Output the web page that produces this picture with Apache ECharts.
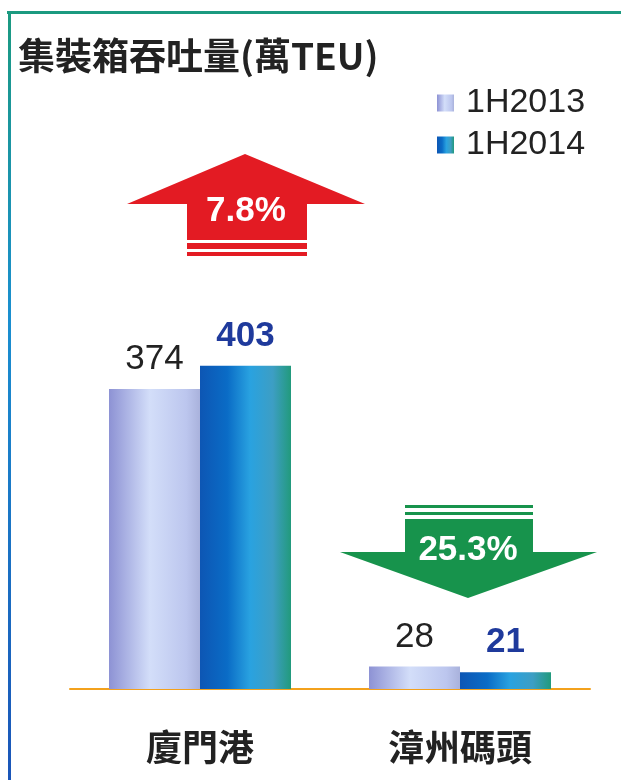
<!DOCTYPE html>
<html>
<head>
<meta charset="utf-8">
<script src="https://cdn.jsdelivr.net/npm/echarts@6/dist/echarts.min.js"></script>
<style>
  html, body { margin: 0; padding: 0; background: #fff; }
  #chart { width: 621px; height: 780px; }
</style>
</head>
<body>
<div id="chart"></div>
<script>
// 数据
const categories = ['廈門港', '漳州碼頭']
const seriesNames = ['1H2013', '1H2014']
const values2013 = [374, 28]
const values2014 = [403, 21]
const changeLabels = ['7.8%', '25.3%']

const cjkFont = '"Noto Sans CJK TC", "Noto Sans CJK SC", sans-serif'
const numFont = '"Liberation Sans", Arial, sans-serif'

const grad2013 = new echarts.graphic.LinearGradient(0, 0, 1, 0, [
  { offset: 0, color: '#8d92d4' },
  { offset: 0.45, color: '#d3def9' },
  { offset: 0.85, color: '#bcc6ee' },
  { offset: 1, color: '#a9b2dc' }
])
const grad2014 = new echarts.graphic.LinearGradient(0, 0, 1, 0, [
  { offset: 0, color: '#0d56b4' },
  { offset: 0.3, color: '#0a6cc6' },
  { offset: 0.55, color: '#29a2e0' },
  { offset: 0.8, color: '#3d9ec4' },
  { offset: 1, color: '#229a7c' }
])

const red = '#e31b23'
const green = '#17934c'

const chart = echarts.init(document.getElementById('chart'))

chart.setOption({
  backgroundColor: '#ffffff',
  animation: false,
  title: {
    text: '集裝箱吞吐量(萬TEU)',
    left: 13,
    top: 32,
    textStyle: { fontFamily: cjkFont, fontSize: 37, fontWeight: 'bold', color: '#222' }
  },
  legend: {
    data: seriesNames,
    orient: 'vertical',
    left: 437,
    top: 86,
    padding: 0,
    icon: 'rect',
    itemWidth: 17,
    itemHeight: 17,
    itemGap: 8,
    textStyle: { fontFamily: numFont, fontSize: 34, color: '#222', padding: [0, 0, 0, 7] }
  },
  grid: { left: 70, right: 31, top: 288, bottom: 91 },
  xAxis: {
    type: 'category',
    data: categories,
    axisLine: { lineStyle: { color: '#f3a11c', width: 2 } },
    axisTick: { show: false },
    axisLabel: { margin: 40, fontFamily: cjkFont, fontSize: 36, fontWeight: 'bold', color: '#222' }
  },
  yAxis: {
    type: 'value',
    min: 0,
    max: 500,
    show: false,
    splitLine: { show: false }
  },
  series: [
    {
      name: seriesNames[0],
      type: 'bar',
      data: values2013,
      barWidth: 91,
      barGap: '0%',
      itemStyle: { color: grad2013 },
      label: {
        show: true, position: 'top', distance: 12,
        fontFamily: numFont, fontSize: 35, color: '#222'
      }
    },
    {
      name: seriesNames[1],
      type: 'bar',
      data: values2014,
      barWidth: 91,
      itemStyle: { color: grad2014 },
      label: {
        show: true, position: 'top', distance: 12,
        fontFamily: numFont, fontSize: 35, fontWeight: 'bold', color: '#1f3a9c'
      }
    }
  ],
  graphic: [
    // 边框
    { type: 'rect', shape: { x: 7, y: 11, width: 614, height: 3 }, style: { fill: '#1b9a80' } },
    {
      type: 'rect', shape: { x: 8, y: 11, width: 3, height: 769 },
      style: {
        fill: new echarts.graphic.LinearGradient(0, 0, 0, 1, [
          { offset: 0, color: '#1b9a80' },
          { offset: 0.4, color: '#1a8fd0' },
          { offset: 1, color: '#1a55b8' }
        ])
      }
    },
    // 上升箭头
    {
      type: 'polygon',
      shape: { points: [[245, 154], [365, 204], [307, 204], [307, 240], [187, 240], [187, 204], [127, 204]] },
      style: { fill: red }
    },
    { type: 'rect', shape: { x: 187, y: 243, width: 120, height: 6 }, style: { fill: red } },
    { type: 'rect', shape: { x: 187, y: 252, width: 120, height: 4 }, style: { fill: red } },
    {
      type: 'text', x: 246, y: 211,
      style: {
        text: changeLabels[0], fill: '#fff', fontFamily: numFont, fontSize: 35, fontWeight: 'bold',
        textAlign: 'center', textVerticalAlign: 'middle'
      }
    },
    // 下降箭头
    { type: 'rect', shape: { x: 405, y: 505, width: 128, height: 3 }, style: { fill: green } },
    { type: 'rect', shape: { x: 405, y: 512, width: 128, height: 3 }, style: { fill: green } },
    {
      type: 'polygon',
      shape: { points: [[405, 519], [533, 519], [533, 552], [597, 552], [468, 598], [340, 552], [405, 552]] },
      style: { fill: green }
    },
    {
      type: 'text', x: 468, y: 550,
      style: {
        text: changeLabels[1], fill: '#fff', fontFamily: numFont, fontSize: 35, fontWeight: 'bold',
        textAlign: 'center', textVerticalAlign: 'middle'
      }
    }
  ]
})
</script>
</body>
</html>
